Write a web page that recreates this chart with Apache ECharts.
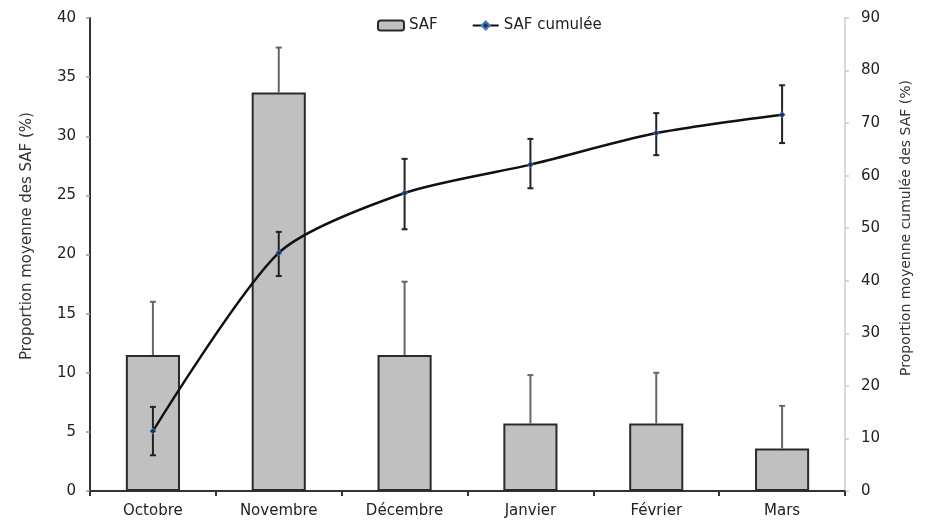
<!DOCTYPE html>
<html>
<head>
<meta charset="utf-8">
<script src="https://cdn.jsdelivr.net/npm/echarts@6/dist/echarts.min.js"></script>
<style>
html,body{margin:0;padding:0;background:#fff;}
#chart{width:926px;height:522px;}
</style>
</head>
<body>
<div id="chart"></div>
<script>
var categories = ['Octobre', 'Novembre', 'Décembre', 'Janvier', 'Février', 'Mars'];
var safValues = [11.5, 33.7, 11.5, 5.7, 5.7, 3.6];
var safErrorTop = [16.0, 37.5, 17.7, 9.8, 10.0, 7.2];
var cumValues = [11.4, 45.3, 56.7, 62.1, 68.1, 71.6];
var cumErrorLow = [6.8, 40.9, 49.8, 57.6, 63.9, 66.2];
var cumErrorHigh = [16.0, 49.3, 63.2, 67.0, 71.9, 77.2];
var leftTicks = {min: 0, max: 40, interval: 5};
var rightTicks = {min: 0, max: 90, interval: 10};
var leftTitle = 'Proportion moyenne des SAF (%)';
var rightTitle = 'Proportion moyenne cumulée des SAF (%)';

var FONT = 'DejaVu Sans, sans-serif';
var chart = echarts.init(document.getElementById('chart'), null, {renderer: 'canvas'});

var barErrData = categories.map(function (c, i) { return [i, safValues[i], safErrorTop[i]]; });
var lineErrData = categories.map(function (c, i) { return [i, cumErrorLow[i], cumErrorHigh[i]]; });

function whisker(params, api, both, color, width, cap) {
  var i = api.value(0);
  var lo = api.coord([i, api.value(1)]);
  var hi = api.coord([i, api.value(2)]);
  var children = [
    {type: 'line', shape: {x1: lo[0], y1: lo[1], x2: hi[0], y2: hi[1]}, style: {stroke: color, lineWidth: width}},
    {type: 'line', shape: {x1: hi[0] - cap, y1: hi[1], x2: hi[0] + cap, y2: hi[1]}, style: {stroke: color, lineWidth: width}}
  ];
  if (both) {
    children.push({type: 'line', shape: {x1: lo[0] - cap, y1: lo[1], x2: lo[0] + cap, y2: lo[1]}, style: {stroke: color, lineWidth: width}});
  }
  return {type: 'group', children: children};
}

var option = {
  backgroundColor: '#fff',
  animation: false,
  textStyle: {fontFamily: FONT},
  legend: {
    data: ['SAF', 'SAF cumulée'],
    top: 13,
    left: 372,
    itemGap: 34,
    itemWidth: 26,
    itemHeight: 10,
    textStyle: {fontFamily: FONT, fontSize: 15, color: '#222'}
  },
  grid: {left: 90, right: 81, top: 18, bottom: 31, containLabel: false},
  graphic: [
    {type: 'text', silent: true, rotation: Math.PI / 2, x: 27, y: 236,
     style: {text: leftTitle, fill: '#333', font: '15px ' + FONT, align: 'center', verticalAlign: 'middle'}},
    {type: 'text', silent: true, rotation: Math.PI / 2, x: 906, y: 228,
     style: {text: rightTitle, fill: '#333', font: '14px ' + FONT, align: 'center', verticalAlign: 'middle'}}
  ],
  xAxis: {
    type: 'category',
    data: categories,
    axisLine: {lineStyle: {color: '#333', width: 2}},
    axisTick: {show: true, alignWithLabel: false, length: 5, lineStyle: {color: '#333', width: 2}},
    axisLabel: {fontFamily: FONT, fontSize: 15, color: '#222', margin: 13}
  },
  yAxis: [
    {
      type: 'value', position: 'left',
      min: leftTicks.min, max: leftTicks.max, interval: leftTicks.interval,
      axisLine: {show: true, lineStyle: {color: '#333', width: 2}},
      axisTick: {show: true, length: 4, lineStyle: {color: '#999', width: 1.5}},
      axisLabel: {fontFamily: FONT, fontSize: 15, color: '#222', margin: 14},
      splitLine: {show: false}
    },
    {
      type: 'value', position: 'right',
      min: rightTicks.min, max: rightTicks.max, interval: rightTicks.interval,
      axisLine: {show: true, lineStyle: {color: '#d8d8d8', width: 2}},
      axisTick: {show: true, length: 4, lineStyle: {color: '#ccc', width: 1.5}},
      axisLabel: {fontFamily: FONT, fontSize: 15, color: '#222', margin: 16},
      splitLine: {show: false}
    }
  ],
  series: [
    {
      name: 'SAF', type: 'bar', data: safValues, barWidth: '43%', yAxisIndex: 0,
      itemStyle: {color: '#c0c0c0', borderColor: '#2a2a2a', borderWidth: 2},
      z: 2
    },
    {
      name: 'safErr', type: 'custom', yAxisIndex: 0, data: barErrData, z: 3,
      renderItem: function (p, api) { return whisker(p, api, false, '#666', 2, 3); },
      silent: true
    },
    {
      name: 'cumErr', type: 'custom', yAxisIndex: 1, data: lineErrData, z: 4,
      renderItem: function (p, api) { return whisker(p, api, true, '#222', 2, 3); },
      silent: true
    },
    {
      name: 'SAF cumulée', type: 'line', yAxisIndex: 1, data: cumValues, smooth: 0.25,
      symbol: 'diamond', symbolSize: 6, showSymbol: true,
      lineStyle: {color: '#111', width: 2.5},
      itemStyle: {color: '#1c2f5e', borderColor: '#4a78b8', borderWidth: 1},
      z: 5
    }
  ]
};
chart.setOption(option);
</script>
</body>
</html>
